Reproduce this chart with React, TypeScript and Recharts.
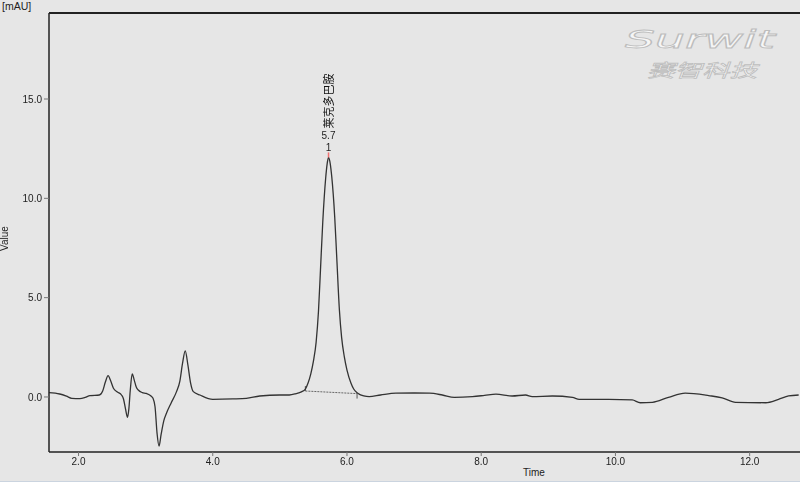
import { LineChart, Line, XAxis, YAxis, ReferenceLine, ReferenceDot } from 'recharts'

// chromatogram trace (min, mAU)
const TIME = [
  1.56, 1.72, 1.82, 1.9, 2.02, 2.1, 2.17, 2.31, 2.36, 2.4, 2.44, 2.48, 2.52, 2.58, 2.64, 2.67, 2.7, 2.73,
  2.75, 2.77, 2.8, 2.83, 2.86, 2.89, 2.95, 3.01, 3.08, 3.11, 3.14, 3.17, 3.2, 3.23, 3.27, 3.31, 3.38,
  3.46, 3.51, 3.55, 3.59, 3.63, 3.67, 3.71, 3.81, 4.0, 4.3, 4.5, 4.7, 5.0, 5.14, 5.24, 5.32, 5.38, 5.42,
  5.46, 5.5, 5.54, 5.575, 5.605, 5.639, 5.682, 5.705, 5.725, 5.75, 5.773, 5.817, 5.847, 5.887, 5.92, 5.96,
  6.0, 6.06, 6.1, 6.16, 6.25, 6.33, 6.5, 6.73, 7.0, 7.23, 7.42, 7.6, 7.87, 8.05, 8.22, 8.46, 8.66, 8.76,
  9.06, 9.36, 9.46, 9.9, 10.25, 10.37, 10.55, 10.79, 11.04, 11.39, 11.59, 11.79, 12.24, 12.43, 12.58, 12.73,
]
const SIGNAL = [
  0.22, 0.15, 0.04, -0.07, -0.08, -0.02, 0.07, 0.1, 0.3, 0.75, 1.07, 0.8, 0.44, 0.25, 0.1, -0.1, -0.6, -1.02,
  -0.6, 0.3, 1.16, 0.85, 0.5, 0.35, 0.22, 0.18, 0.05, -0.07, -0.49, -1.83, -2.47, -1.9, -1.2, -0.82, -0.3,
  0.27, 0.8, 1.7, 2.32, 1.6, 0.7, 0.27, 0.1, -0.12, -0.1, -0.07, 0.05, 0.1, 0.1, 0.17, 0.26, 0.4, 0.7,
  1.15, 1.8, 2.75, 4.3, 6.4, 8.8, 11.0, 11.75, 12.06, 11.75, 11.09, 9.07, 7.06, 4.38, 3.0, 2.03,
  1.35, 0.69, 0.4, 0.19, 0.05, 0.02, 0.1, 0.19, 0.2, 0.19, 0.1, -0.02, 0.02, 0.08, 0.14, 0.05, 0.1, 0.02,
  0.05, -0.02, -0.12, -0.12, -0.15, -0.29, -0.27, -0.02, 0.19, 0.07, -0.04, -0.27, -0.29, -0.12, 0.05, 0.1,
]

const X_TICKS = [2, 4, 6, 8, 10, 12]
const Y_TICKS = [0, 5, 10, 15]
const X_DOMAIN = [1.56, 12.75]
const Y_DOMAIN = [-2.77, 19.33]

// integrated peak
const PEAK_NAME = '莱克多巴胺'
const PEAK_NO = '1'
const PEAK_TIME = 5.725
const PEAK_HEIGHT = 12.06
const PEAK_START = { x: 5.38, y: 0.3 }
const PEAK_END = { x: 6.15, y: 0.17 }

const data = TIME.map((t, i) => ({ t, v: SIGNAL[i] }))

const FONT = '"Liberation Sans", Arial, sans-serif'
const tickStyle = { fill: '#222', fontSize: 10, fontFamily: FONT }

function PeakLabel({ cx, cy }: { cx?: number; cy?: number }) {
  if (cx == null || cy == null) return null
  return (
    <g>
      <line x1={cx} x2={cx} y1={cy - 5} y2={cy} stroke="#f07070" strokeWidth={1.5} />
      <text x={cx} y={cy - 6} textAnchor="middle" fontSize={10} fontFamily={FONT} fill="#222">
        {PEAK_NO}
      </text>
      <text x={cx} y={cy - 18} textAnchor="middle" fontSize={10} fontFamily={FONT} fill="#222">
        {PEAK_TIME.toFixed(1)}
      </text>
      <text
        x={cx}
        y={cy - 25}
        transform={`rotate(-90, ${cx}, ${cy - 29})`}
        fontSize={11}
        fontFamily='"Noto Sans CJK SC", sans-serif'
        fill="#111"
      >
        {PEAK_NAME}
      </text>
    </g>
  )
}

export default function App() {
  return (
    <div
      style={{
        position: 'fixed',
        left: 0,
        top: 0,
        width: 800,
        height: 481,
        background: '#e6e6e6',
        borderBottom: '1px solid #cbd4df',
        fontFamily: FONT,
      }}
    >
      <div style={{ position: 'absolute', left: 2, top: 0, fontSize: 10.5, color: '#222' }}>[mAU]</div>
      <div
        style={{
          position: 'absolute',
          left: -8,
          top: 233,
          fontSize: 10,
          color: '#222',
          transform: 'rotate(-90deg)',
        }}
      >
        Value
      </div>
      <div style={{ position: 'absolute', left: 523, top: 467, fontSize: 10, color: '#222' }}>Time</div>
      <svg width={800} height={90} style={{ position: 'absolute', left: 0, top: 0 }}>
        <text
          x={625}
          y={48}
          textLength={150}
          lengthAdjust="spacingAndGlyphs"
          fontSize={24}
          fontStyle="italic"
          fontFamily='"DejaVu Sans", sans-serif'
          fill="#f6f6f6"
          stroke="#bdbdbd"
          strokeWidth={0.8}
        >
          Surwit
        </text>
        <text
          x={647}
          y={77}
          textLength={110}
          lengthAdjust="spacingAndGlyphs"
          fontSize={18}
          fontStyle="italic"
          fontFamily='"Noto Sans CJK SC", sans-serif'
          fill="#f6f6f6"
          stroke="#bdbdbd"
          strokeWidth={0.7}
        >
          赛智科技
        </text>
      </svg>
      <LineChart
        width={800}
        height={481}
        data={data}
        margin={{ top: 13, right: 0, bottom: 0, left: 0 }}
        style={{ position: 'absolute', left: 0, top: 0 }}
      >
        <XAxis
          dataKey="t"
          type="number"
          domain={X_DOMAIN}
          ticks={X_TICKS}
          allowDataOverflow
          height={29}
          tickFormatter={(v: number) => v.toFixed(1)}
          tick={tickStyle}
          tickSize={4}
          tickMargin={2}
          axisLine={{ stroke: '#222', strokeWidth: 1.5 }}
          tickLine={{ stroke: '#777' }}
        />
        <YAxis
          type="number"
          domain={Y_DOMAIN}
          ticks={Y_TICKS}
          allowDataOverflow
          width={49}
          tickFormatter={(v: number) => v.toFixed(1)}
          tick={tickStyle}
          tickSize={5}
          tickMargin={2}
          axisLine={{ stroke: '#222', strokeWidth: 1.5 }}
          tickLine={{ stroke: '#777' }}
        />
        <ReferenceLine y={Y_DOMAIN[1]} stroke="#222" strokeWidth={2} />
        <ReferenceLine segment={[PEAK_START, PEAK_END]} stroke="#666" strokeDasharray="2 1" />
        <ReferenceLine
          segment={[PEAK_START, { x: PEAK_START.x, y: PEAK_START.y + 0.25 }]}
          stroke="#555"
        />
        <ReferenceLine segment={[PEAK_END, { x: PEAK_END.x, y: PEAK_END.y - 0.25 }]} stroke="#555" />
        <Line
          type="monotone"
          dataKey="v"
          stroke="#333"
          strokeWidth={1.3}
          dot={false}
          isAnimationActive={false}
        />
        <ReferenceDot x={PEAK_TIME} y={PEAK_HEIGHT} r={0} shape={(p: any) => <PeakLabel cx={p.cx} cy={p.cy} />} />
      </LineChart>
    </div>
  )
}
